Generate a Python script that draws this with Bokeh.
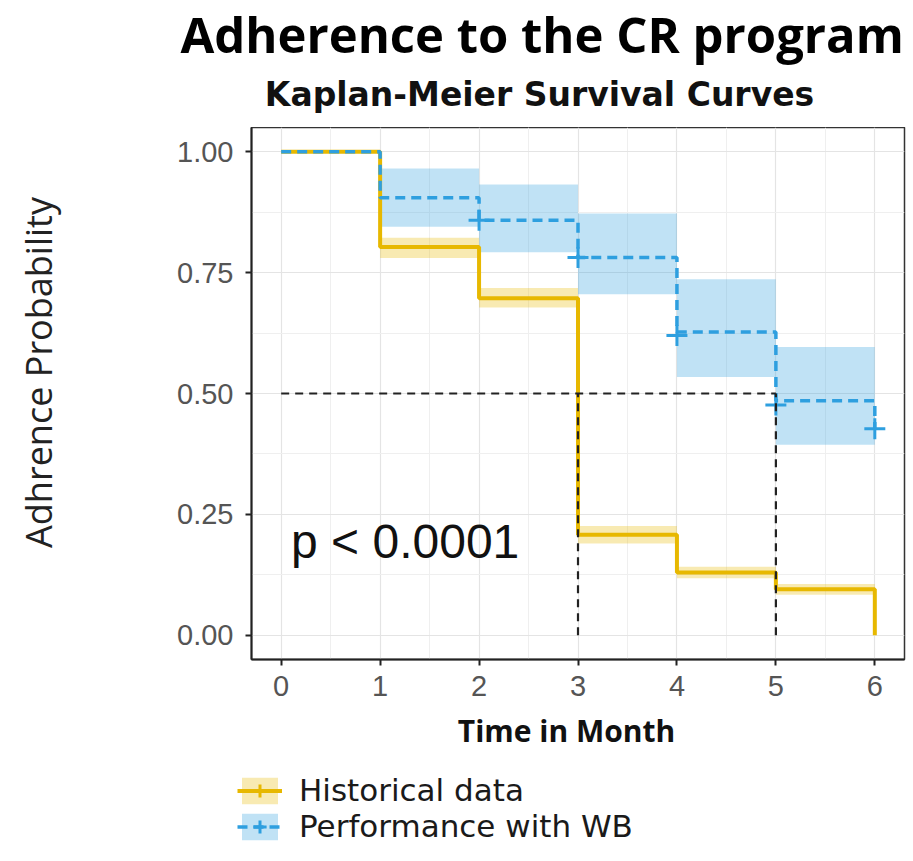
import math
from bokeh.plotting import figure
from bokeh.layouts import column, row
from bokeh.models import (Label, Legend, LegendItem, FixedTicker, NumeralTickFormatter,
                          Range1d, ColumnDataSource)
from bokeh.embed import file_html
from bokeh.resources import INLINE

# ---------------- data ----------------
times = [0, 1, 2, 3, 4, 5, 6]
hist_surv = [1.00, 0.803, 0.697, 0.208, 0.130, 0.095, 0.0]
hist_lower = [1.00, 0.780, 0.678, 0.190, 0.118, 0.084, 0.0]
hist_upper = [1.00, 0.822, 0.718, 0.226, 0.142, 0.106, 0.0]
wb_surv = [1.00, 0.905, 0.858, 0.781, 0.627, 0.485, 0.427]
wb_lower = [1.00, 0.845, 0.792, 0.705, 0.534, 0.394, 0.394]
wb_upper = [1.00, 0.965, 0.932, 0.872, 0.736, 0.596, 0.596]
wb_censor_times = [2, 3, 4, 5, 6]
wb_censor_surv = [0.858, 0.781, 0.620, 0.476, 0.427]
median_times = [3, 5]
median_level = 0.5
x_ticks = [0, 1, 2, 3, 4, 5, 6]
x_minor = [0.5, 1.5, 2.5, 3.5, 4.5, 5.5]
y_ticks = [0.0, 0.25, 0.5, 0.75, 1.0]
y_minor = [0.125, 0.375, 0.625, 0.875]
series_names = ["Historical data", "Performance with WB"]
title_text = "Adherence to the CR program"
subtitle_text = "Kaplan-Meier Survival Curves"
x_label = "Time in Month"
y_label = "Adhrence Probability"
pval_text = "p < 0.0001"

YELLOW = "#E7B800"
BLUE = "#2E9FDF"
W = 908
HEADER_H, FRAME_H, MAIN_BOTTOM = 127, 532, 49
MAIN_H = FRAME_H + MAIN_BOTTOM
FOOTER_H = 861 - HEADER_H - MAIN_H
LEFT_W = 80


def blank(width, height):
    f = figure(width=width, height=height, output_backend="svg", toolbar_location=None,
               title=None, x_axis_type=None, y_axis_type=None,
               x_range=Range1d(100, 200), y_range=Range1d(100, 200),
               min_border_left=0, min_border_right=0, min_border_top=0, min_border_bottom=0)
    f.outline_line_color = None
    f.grid.visible = False
    f.background_fill_color = "white"
    f.border_fill_color = "white"
    return f


# ---------------- header (titles) ----------------
header = blank(W, HEADER_H)
header.add_layout(Label(x=180, y=HEADER_H - 50 + 17, x_units="screen", y_units="screen",
                        text=title_text, text_font="Open Sans", text_font_style="bold",
                        text_font_size="49px", text_color="#000000",
                        text_baseline="alphabetic"))
header.add_layout(Label(x=539, y=HEADER_H - 103 + 9, x_units="screen", y_units="screen",
                        text=subtitle_text, text_font="DejaVu Sans", text_font_style="bold",
                        text_font_size="33px", text_color="#111111", text_align="center",
                        text_baseline="alphabetic"))

# ---------------- left (y label) ----------------
left = blank(LEFT_W, MAIN_H)
left.add_layout(Label(x=38, y=FRAME_H - (372 - HEADER_H), x_units="screen", y_units="screen",
                      text=y_label, angle=math.pi / 2, text_font="Open Sans",
                      text_font_size="36px", text_color="#222222", text_align="center",
                      text_baseline="alphabetic"))

# ---------------- main plot ----------------
p = figure(width=W - LEFT_W, height=MAIN_H, output_backend="svg", toolbar_location=None,
           title=None, x_range=Range1d(-0.3, 6.3), y_range=Range1d(-0.05, 1.05),
           min_border_left=251 - LEFT_W, min_border_right=4, min_border_top=0,
           min_border_bottom=MAIN_BOTTOM)
p.background_fill_color = "white"
p.border_fill_color = "white"
p.outline_line_color = "#333333"
p.outline_line_width = 1.5

for ax in (p.xaxis[0], p.yaxis[0]):
    ax.axis_line_color = "#222222"
    ax.axis_line_width = 2
    ax.major_tick_line_color = "#222222"
    ax.major_tick_line_width = 2
    ax.major_tick_out = 6
    ax.major_tick_in = 0
    ax.minor_tick_line_color = None
    ax.major_label_text_font = "Liberation Sans"
    ax.major_label_text_font_size = "29px"
    ax.major_label_text_color = "#555555"
p.xaxis[0].ticker = FixedTicker(ticks=x_ticks, minor_ticks=x_minor)
p.yaxis[0].ticker = FixedTicker(ticks=y_ticks, minor_ticks=y_minor)
p.yaxis[0].formatter = NumeralTickFormatter(format="0.00")
p.xaxis[0].major_label_standoff = 10
p.yaxis[0].major_label_standoff = 12

p.xgrid[0].ticker = p.xaxis[0].ticker
p.ygrid[0].ticker = p.yaxis[0].ticker
for g in (p.xgrid[0], p.ygrid[0]):
    g.grid_line_color = "#E4E4E4"
    g.grid_line_width = 1.2
    g.minor_grid_line_color = "#EFEFEF"
    g.minor_grid_line_width = 1

hist_band_src = ColumnDataSource(dict(left=times[:-1], right=times[1:],
                                      bottom=hist_lower[:-1], top=hist_upper[:-1]))
wb_band_src = ColumnDataSource(dict(left=times[:-1], right=times[1:],
                                    bottom=wb_lower[:-1], top=wb_upper[:-1]))


def draw_series(fig):
    hb = fig.quad(left="left", right="right", bottom="bottom", top="top",
                  source=hist_band_src, fill_color=YELLOW, fill_alpha=0.3, line_color=None)
    wbb = fig.quad(left="left", right="right", bottom="bottom", top="top",
                   source=wb_band_src, fill_color=BLUE, fill_alpha=0.3, line_color=None)
    hl = fig.step(x=times, y=hist_surv, mode="after", line_color=YELLOW, line_width=4)
    wl = fig.step(x=times, y=wb_surv, mode="after", line_color=BLUE, line_width=3.5,
                  line_dash="10 6")
    wc = fig.scatter(x=wb_censor_times, y=wb_censor_surv, marker="cross", size=21,
                     line_color=BLUE, line_width=3)
    return hb, wbb, hl, wl, wc


draw_series(p)

p.segment(x0=[0], y0=[median_level], x1=[max(median_times)], y1=[median_level],
          line_color="#222222", line_width=2.2, line_dash="8 6")
p.segment(x0=median_times, y0=[0] * len(median_times), x1=median_times,
          y1=[median_level] * len(median_times),
          line_color="#222222", line_width=2.2, line_dash="8 6")

p.add_layout(Label(x=0.1, y=0.195, text=pval_text, text_font="Liberation Sans",
                   text_font_size="48px", text_color="#111111", text_baseline="alphabetic"))

# ---------------- footer (x label + legend) ----------------
footer = blank(W, FOOTER_H)
footer.add_layout(Label(x=566, y=FOOTER_H - (742 - HEADER_H - MAIN_H) + 12, x_units="screen",
                        y_units="screen", text=x_label, text_font="Open Sans",
                        text_font_style="bold", text_font_size="30px", text_color="#111111",
                        text_align="center", text_baseline="alphabetic"))

# legend key renderers (same data, drawn outside the footer's visible ranges)
fhb, fwbb, fhl, fwl, fwc = draw_series(footer)
fhc = footer.scatter(x=times, y=hist_surv, marker="cross", size=21, line_color=YELLOW,
                     line_width=3)

legend_top = 772
row_h = 36
legend = Legend(items=[LegendItem(label=series_names[0], renderers=[fhb, fhl, fhc]),
                       LegendItem(label=series_names[1], renderers=[fwbb, fwl, fwc])],
                location=(237, FOOTER_H - (legend_top - HEADER_H - MAIN_H) - 2 * row_h),
                label_text_font="DejaVu Sans", label_text_font_size="31px",
                label_text_color="#1A1A1A", glyph_width=45, glyph_height=33,
                label_standoff=17, label_height=33, padding=0, margin=0, spacing=0,
                border_line_alpha=0, background_fill_alpha=0)
footer.add_layout(legend)

layout = column(header, row(left, p), footer)
open("out.html", "w").write(file_html(layout, INLINE))
